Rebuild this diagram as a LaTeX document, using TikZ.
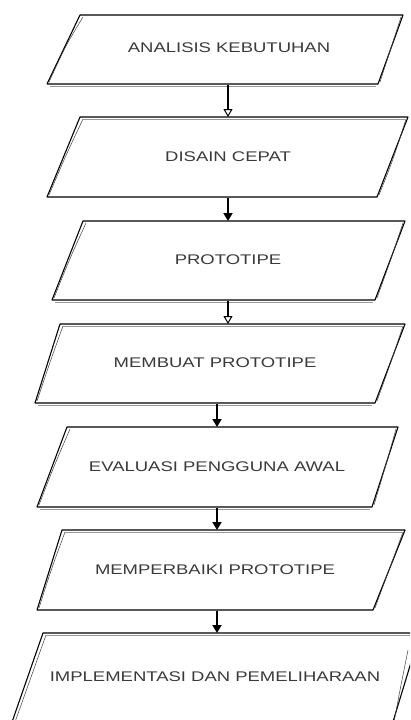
\documentclass[tikz,border=0pt]{standalone}
\usepackage{fontspec}
\setmainfont{Liberation Sans}
\usetikzlibrary{arrows.meta}
\definecolor{txt}{HTML}{3A3A3A}
\tikzset{
  boxline/.style={draw=black, line width=1.1pt, line join=round},
  sketch/.style={draw=black!75, line width=0.5pt},
  lbl/.style={text=txt, font=\fontsize{14}{16}\selectfont, inner sep=0pt},
  flow/.style={draw=black, line width=1.8pt, -{Triangle[length=8pt,width=9pt]}},
  flowopen/.style={draw=black, line width=1.8pt, -{Triangle[open,length=8pt,width=9pt,line width=1pt]}},
}
\newcommand{\stretchtxt}[1]{\scalebox{1.32}[1]{#1}}
\begin{document}
\begin{tikzpicture}[x=1pt,y=-1pt]
\useasboundingbox (0,0) rectangle (410,720);
\fill[white] (0,0) rectangle (410,720);
\begin{scope}
\clip (0,0) rectangle (410,720);
% shape 1
\draw[boxline] (80,15) -- (403,15) -- (378,84) -- (47,84) -- cycle;
\draw[sketch] (83,17) .. controls (66,45) .. (49,82);
\draw[sketch] (401,17) .. controls (390,50) .. (380,82);
\draw[black!40, line width=0.6pt] (50,86) -- (376,86);
% shape 2
\draw[boxline] (80,117) -- (408,117) -- (377,197) -- (47,197) -- cycle;
\draw[sketch] (83,119) .. controls (66,155) .. (49,195);
\draw[sketch] (406,119) .. controls (393,160) .. (379,195);
\draw[black!40, line width=0.6pt] (82,119) -- (405,119);
% shape 3
\draw[boxline] (83,221) -- (405,221) -- (375,300) -- (52,300) -- cycle;
\draw[sketch] (86,223) .. controls (70,258) .. (54,298);
\draw[sketch] (403,223) .. controls (390,262) .. (377,298);
\draw[black!40, line width=0.6pt] (55,302) -- (373,302);
% shape 4
\draw[boxline] (60,324) -- (405,324) -- (375,403) -- (35,403) -- cycle;
\draw[sketch] (63,326) .. controls (50,362) .. (37,401);
\draw[sketch] (403,326) .. controls (390,365) .. (377,401);
\draw[black!40, line width=0.6pt] (62,326) -- (402,326);
\draw[black!40, line width=0.6pt] (38,405) -- (372,405);
% shape 5
\draw[boxline] (67,427) -- (398,427) -- (372,507) -- (37,507) -- cycle;
\draw[sketch] (70,429) .. controls (54,466) .. (39,505);
\draw[sketch] (396,429) .. controls (385,468) .. (374,505);
\draw[black!40, line width=0.6pt] (40,509) -- (370,509);
% shape 6
\draw[boxline] (62,530) -- (405,530) -- (373,610) -- (37,610) -- cycle;
\draw[sketch] (65,532) .. controls (51,570) .. (39,608);
\draw[sketch] (403,532) .. controls (389,570) .. (375,608);
\draw[black!40, line width=0.6pt] (64,532) -- (402,532);
% shape 7
\draw[boxline] (43,633) -- (420,633) -- (392,725) -- (11,725) -- cycle;
\draw[sketch] (46,635) .. controls (30,680) .. (15,722);
\draw[sketch] (408,650) .. controls (400,690) .. (394,722);
\draw[black!40, line width=0.6pt] (45,635) -- (410,635);
\end{scope}
% labels
\node[lbl] (t1) at (229,48) {\stretchtxt{ANALISIS KEBUTUHAN}};
\node[lbl] (t2) at (228,157) {\stretchtxt{DISAIN CEPAT}};
\node[lbl] (t3) at (228,260) {\stretchtxt{PROTOTIPE}};
\node[lbl] (t4) at (215,363) {\stretchtxt{MEMBUAT PROTOTIPE}};
\node[lbl] (t5) at (217,467) {\stretchtxt{EVALUASI PENGGUNA AWAL}};
\node[lbl] (t6) at (215,570) {\stretchtxt{MEMPERBAIKI PROTOTIPE}};
\node[lbl] (t7) at (215,677) {\stretchtxt{IMPLEMENTASI DAN PEMELIHARAAN}};
% connector ends
\coordinate (b1) at (228,85);  \coordinate (a2) at (228,117);
\coordinate (b2) at (228,198); \coordinate (a3) at (228,221);
\coordinate (b3) at (228,301); \coordinate (a4) at (228,324);
\coordinate (b4) at (217,404); \coordinate (a5) at (217,427);
\coordinate (b5) at (217,508); \coordinate (a6) at (217,530);
\coordinate (b6) at (217,611); \coordinate (a7) at (217,633);
\draw[flowopen] (b1) -- (a2);
\draw[flow] (b2) -- (a3);
\draw[flowopen] (b3) -- (a4);
\draw[flow] (b4) -- (a5);
\draw[flow] (b5) -- (a6);
\draw[flow] (b6) -- (a7);
\end{tikzpicture}
\end{document}
